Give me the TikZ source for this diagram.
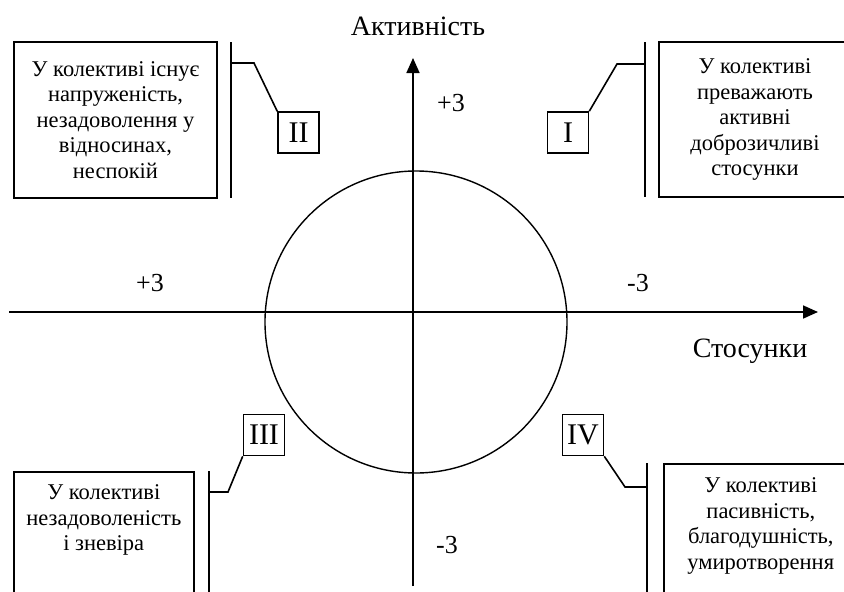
\documentclass[tikz,border=0pt]{standalone}
\usepackage{fontspec}
\setmainfont{Liberation Serif}
\usetikzlibrary{arrows.meta,positioning}

\tikzset{
  descbox/.style={draw, line width=1.6pt, align=center, inner sep=0pt,
    font=\fontsize{22.5}{25.5}\selectfont},
  desctext/.style={align=center, inner sep=0pt, font=\fontsize{22.5}{25.5}\selectfont},
  numbox/.style={draw, line width=1.6pt, minimum size=41pt, inner sep=0pt,
    font=\fontsize{30}{30}\selectfont},
  axislabel/.style={font=\fontsize{28}{30}\selectfont},
  scalelabel/.style={font=\fontsize{26}{28}\selectfont},
  axis/.style={line width=1.7pt, -{Triangle[length=15pt,width=13pt]}}
}

\begin{document}
\begin{tikzpicture}[x=1pt,y=-1pt,line width=1.6pt]
  \clip (0,0) rectangle (844,592);
  \useasboundingbox (0,0) rectangle (844,592);
  % axes and circle
  \coordinate (xs) at (9,312); \coordinate (xe) at (818,312);
  \coordinate (ys) at (413,586); \coordinate (ye) at (413,58);
  \draw[axis] (xs) -- (xe);
  \draw[axis] (ys) -- (ye);
  \draw[line width=1.4pt] (416,322) circle[radius=151pt];
  \node[axislabel] (act) at (418,26) {Активність};
  \node[axislabel] (rel) at (750,351) {Стосунки};
  \node[scalelabel] (pt) at (451,103) {+3};
  \node[scalelabel] (pl) at (150,283) {+3};
  \node[scalelabel] (mr) at (638,283) {-3};
  \node[scalelabel] (mb) at (447,545) {-3};
  % quadrant II
  \node[descbox, minimum width=203pt, minimum height=156pt] (d2) at (115.5,120)
    {У колективі існує\\напруженість,\\незадоволення у\\відносинах,\\неспокій};
  \draw (231,42) -- (231,198);
  \coordinate (b2) at (231,63);
  \node[numbox] (n2) at (298.5,132.5) {II};
  \draw (b2) -- ++(23,0) -- (n2.north west);
  % quadrant I
  \node[descbox, minimum width=192pt, minimum height=155pt] (d1) at (755,119.5)
    {У колективі\\преважають\\активні\\доброзичливі\\стосунки};
  \draw (645,42) -- (645,197);
  \coordinate (b1) at (645,64);
  \node[numbox] (n1) at (568,132.5) {I};
  \draw (b1) -- ++(-28,0) -- (n1.north east);
  % quadrant III
  \node[descbox, minimum width=180pt, minimum height=160pt, anchor=north west] (d3) at (13,471) {};
  \node[desctext, below=13pt of d3.north] (t3) {У колективі\\незадоволеність\\і зневіра};
  \draw (209,471) -- (209,600);
  \coordinate (b3) at (209,492);
  \node[numbox] (n3) at (264,435) {III};
  \draw (b3) -- ++(19,0) -- (n3.south west);
  % quadrant IV
  \node[descbox, minimum width=194pt, minimum height=160pt, anchor=north west] (d4) at (663,463) {};
  \node[desctext, below=14pt of d4.north] (t4) {У колективі\\пасивність,\\благодушність,\\умиротворення};
  \draw (647,463) -- (647,600);
  \coordinate (b4) at (647,487);
  \node[numbox] (n4) at (583,435) {IV};
  \draw (b4) -- ++(-22,0) -- (n4.south east);
\end{tikzpicture}
\end{document}
